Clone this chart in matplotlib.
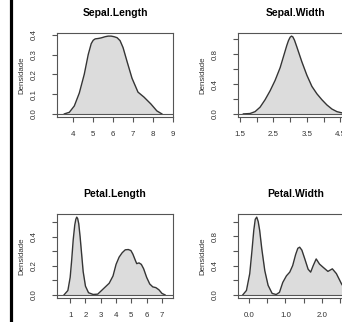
"""Density plots of the four iris measurements (2x2 grid, R-style look)."""
import matplotlib
matplotlib.use('Agg')
import matplotlib.pyplot as plt
from matplotlib.lines import Line2D

plt.rcParams['font.family'] = ['Liberation Sans', 'DejaVu Sans']

titles = ['Sepal.Length', 'Sepal.Width', 'Petal.Length', 'Petal.Width']
ylabel = 'Densidade'

# density curves
sepal_length_x = [3.55, 3.8, 4.05, 4.3, 4.55, 4.75, 4.9, 5.0, 5.1, 5.25, 5.4, 5.6, 5.75, 5.9,
                  6.05, 6.2, 6.35, 6.5, 6.7, 6.95, 7.25, 7.55, 7.9, 8.2, 8.45]
sepal_length_y = [0.0, 0.008, 0.04, 0.105, 0.2, 0.30, 0.355, 0.372, 0.379, 0.381, 0.384, 0.39, 0.393, 0.393,
                  0.39, 0.385, 0.37, 0.335, 0.265, 0.18, 0.11, 0.085, 0.05, 0.015, 0.0]

sepal_width_x = [1.6, 1.8, 1.95, 2.1, 2.25, 2.4, 2.55, 2.7, 2.82, 2.9, 2.95, 3.0, 3.04, 3.08,
                 3.13, 3.2, 3.35, 3.5, 3.65, 3.8, 3.95, 4.1, 4.25, 4.4, 4.6, 4.8]
sepal_width_y = [0.0, 0.005, 0.03, 0.09, 0.19, 0.31, 0.45, 0.62, 0.80, 0.92, 0.985, 1.03, 1.045, 1.035,
                 0.99, 0.90, 0.70, 0.52, 0.37, 0.27, 0.19, 0.12, 0.065, 0.03, 0.008, 0.0]

petal_length_x = [0.6, 0.85, 1.0, 1.1, 1.2, 1.3, 1.37, 1.43, 1.49, 1.56, 1.65, 1.75, 1.85, 2.0, 2.2,
                  2.5, 2.8, 3.05, 3.3, 3.55, 3.8, 4.0, 4.2, 4.4, 4.6, 4.8, 4.97, 5.1, 5.25, 5.35,
                  5.5, 5.65, 5.8, 6.0, 6.2, 6.4, 6.6, 6.8, 7.0, 7.2]
petal_length_y = [0.0, 0.03, 0.12, 0.24, 0.38, 0.48, 0.52, 0.535, 0.525, 0.49, 0.40, 0.28, 0.16, 0.06, 0.015,
                  0.003, 0.005, 0.03, 0.055, 0.08, 0.13, 0.21, 0.26, 0.29, 0.31, 0.312, 0.305, 0.28, 0.24, 0.215,
                  0.22, 0.21, 0.18, 0.12, 0.075, 0.055, 0.05, 0.035, 0.01, 0.0]

petal_width_x = [-0.16, -0.06, 0.03, 0.09, 0.14, 0.18, 0.22, 0.26, 0.3, 0.36, 0.44, 0.53, 0.64, 0.75,
                 0.84, 0.93, 1.03, 1.12, 1.2, 1.28, 1.34, 1.39, 1.45, 1.53, 1.62, 1.69, 1.76, 1.84,
                 1.93, 2.02, 2.16, 2.28, 2.39, 2.53, 2.65, 2.8]
petal_width_y = [0.0, 0.06, 0.29, 0.60, 0.88, 1.03, 1.06, 1.0, 0.88, 0.62, 0.33, 0.13, 0.02, 0.005,
                 0.035, 0.17, 0.26, 0.31, 0.40, 0.55, 0.635, 0.65, 0.61, 0.49, 0.35, 0.31, 0.40, 0.49,
                 0.42, 0.38, 0.32, 0.355, 0.29, 0.15, 0.06, 0.0]

# tick positions and labels per panel
x_ticks = [[4, 5, 6, 7, 8, 9],
           [1.5, 2.0, 2.5, 3.0, 3.5, 4.0, 4.5],
           [1, 2, 3, 4, 5, 6, 7],
           [0.0, 0.5, 1.0, 1.5, 2.0, 2.5]]
x_labels = [['4', '5', '6', '7', '8', '9'],
            ['1.5', '', '2.5', '', '3.5', '', '4.5'],
            ['1', '2', '3', '4', '5', '6', '7'],
            ['0.0', '', '1.0', '', '2.0', '']]
y_ticks = [[0.0, 0.1, 0.2, 0.3, 0.4],
           [0.0, 0.2, 0.4, 0.6, 0.8, 1.0],
           [0.0, 0.1, 0.2, 0.3, 0.4, 0.5],
           [0.0, 0.2, 0.4, 0.6, 0.8, 1.0]]
y_labels = [['0.0', '0.1', '0.2', '0.3', '0.4'],
            ['0.0', '', '0.4', '', '0.8', ''],
            ['0.0', '', '0.2', '', '0.4', ''],
            ['0.0', '', '0.4', '', '0.8', '']]
x_limits = [(3.18, 9.01), (1.44, 4.91), (0.14, 7.72), (-0.29, 2.87)]

W, H = 342, 322
# box positions in pixels: left, top, right, bottom
boxes = [(57, 33, 173, 117), (238, 33, 354, 117),
         (57, 214, 173, 298), (238, 214, 354, 298)]

GRAY = '#555555'


def draw_panel(fig, box, xs, ys, title, xt, xl, yt, yl, xlim):
    left, top, right, bottom = box
    ax = fig.add_axes([left / W, (H - bottom) / H, (right - left) / W, (bottom - top) / H])
    ymax = max(ys)
    ax.fill_between(xs, ys, 0, color='#dcdcdc', lw=0)
    ax.plot(xs, ys, color='#353535', lw=1.0)
    ax.axhline(0, color=GRAY, lw=0.8)
    ax.set_xlim(*xlim)
    ax.set_ylim(-0.04 * ymax, 1.04 * ymax)
    for sp in ax.spines.values():
        sp.set_color(GRAY)
        sp.set_linewidth(0.8)
    ax.set_xticks(xt)
    ax.set_xticklabels(xl)
    ax.set_yticks(yt)
    ax.set_yticklabels(yl, rotation=90, va='center')
    ax.tick_params(axis='both', direction='out', length=3.8, width=0.8, color=GRAY,
                   labelsize=5.7, labelcolor='#333333')
    ax.tick_params(axis='x', pad=6.3)
    ax.tick_params(axis='y', pad=10)
    h = bottom - top
    w = right - left
    ax.text(0.5, 1 + 20 / h, title, transform=ax.transAxes, ha='center', va='center',
            fontsize=7.5, fontweight='bold')
    ax.text(-35.5 / w, 0.5, ylabel, transform=ax.transAxes, ha='center', va='center',
            rotation=90, fontsize=5.7, color='#333333')
    return ax


def main():
    fig = plt.figure(figsize=(W / 100, H / 100), dpi=100)
    fig.patch.set_facecolor('white')
    series = [(sepal_length_x, sepal_length_y), (sepal_width_x, sepal_width_y),
              (petal_length_x, petal_length_y), (petal_width_x, petal_width_y)]
    for i, (xs, ys) in enumerate(series):
        draw_panel(fig, boxes[i], xs, ys, titles[i], x_ticks[i], x_labels[i],
                   y_ticks[i], y_labels[i], x_limits[i])
    # dark frame line on the left edge of the screenshot
    fig.add_artist(Line2D([10.5 / W, 10.5 / W], [0, 1], transform=fig.transFigure,
                          color='black', lw=2.3))
    fig.savefig('out.png', dpi=100)
    plt.close(fig)


if __name__ == '__main__':
    main()
